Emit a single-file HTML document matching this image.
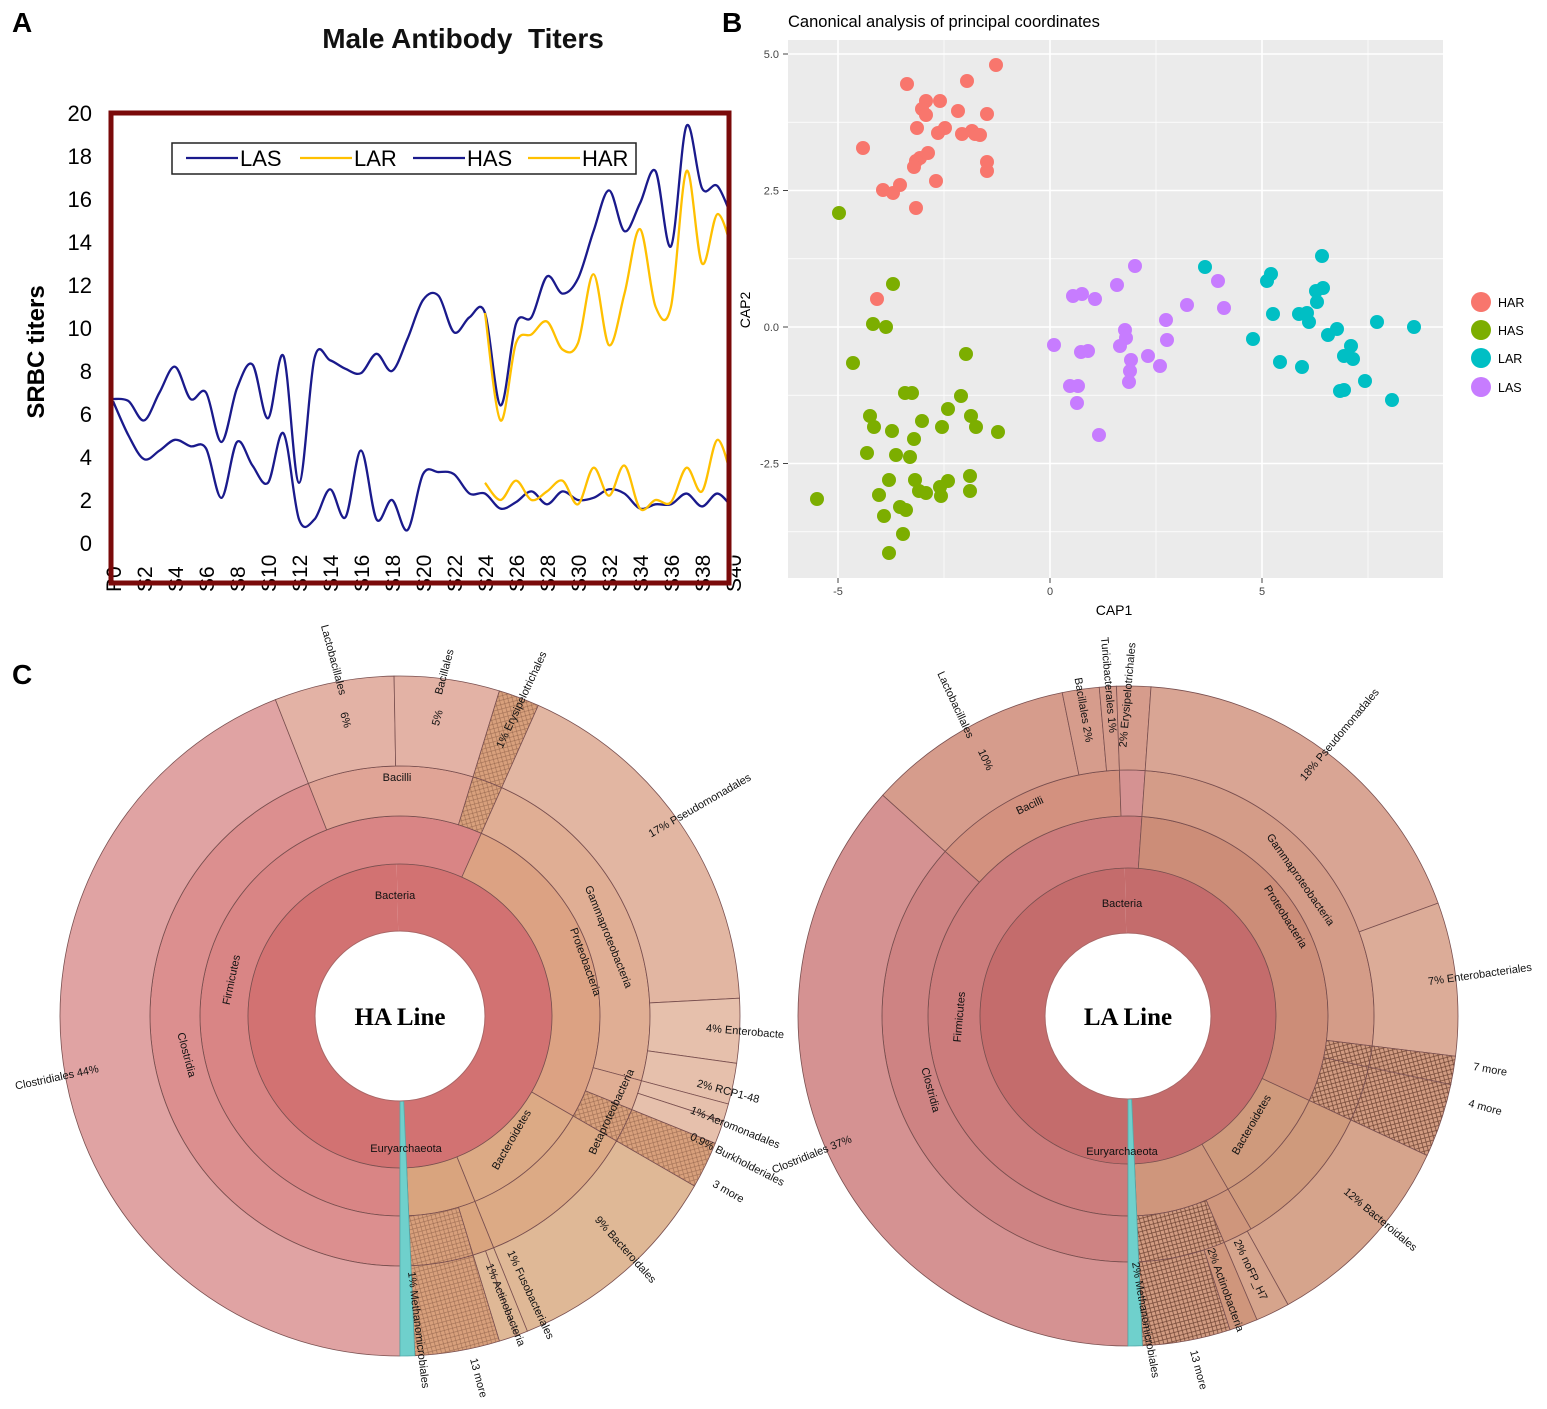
<!DOCTYPE html>
<html><head><meta charset="utf-8"><style>
html,body{margin:0;padding:0;background:#fff;}
svg{display:block;font-family:"Liberation Sans",Arial,sans-serif;}
</style></head><body>
<svg id="s" width="1547" height="1409" viewBox="0 0 1547 1409" xmlns="http://www.w3.org/2000/svg">
<defs>
<pattern id="h1" width="6" height="6" patternUnits="userSpaceOnUse" patternTransform="rotate(30)">
<rect width="6" height="6" fill="#d8a07c"/><path d="M0 0L6 6M6 0L0 6" stroke="#9a6a50" stroke-width="0.6"/></pattern>
<pattern id="h2" width="6" height="6" patternUnits="userSpaceOnUse" patternTransform="rotate(30)">
<rect width="6" height="6" fill="#d29c82"/><path d="M0 0L6 6M6 0L0 6" stroke="#6a4030" stroke-width="0.7"/></pattern>
</defs>
<g id="A"></g><g id="B"></g><g id="C"></g>
<text x="12" y="32" font-size="28" font-weight="bold">A</text>
<text x="722" y="32" font-size="28" font-weight="bold">B</text>
<text x="12" y="684" font-size="28" font-weight="bold">C</text>
</svg>
<script>
const NS="http://www.w3.org/2000/svg";
function el(p,tag,attrs,txt){const e=document.createElementNS(NS,tag);for(const k in attrs)e.setAttribute(k,attrs[k]);if(txt!==undefined)e.textContent=txt;p.appendChild(e);return e;}
// ---------- Panel A ----------
const A=document.getElementById('A');
el(A,'text',{x:463,y:48,'font-size':28,'font-weight':'bold','text-anchor':'middle',fill:'#111'},'Male Antibody\u00a0\u00a0Titers');
el(A,'text',{transform:'translate(44,352) rotate(-90)','font-size':24,'font-weight':'bold','text-anchor':'middle'},'SRBC titers');
const X0=113,DX=15.5,Y0=543,DY=21.5;
const px=i=>X0+i*DX, py=v=>Y0-v*DY;
for(let v=0;v<=20;v+=2)el(A,'text',{x:92,y:py(v)+8,'font-size':22,'text-anchor':'end'},String(v));
for(let i=0;i<=40;i+=2){const lab=i==0?'P0':'S'+i;el(A,'text',{transform:`translate(${px(i)+8},592) rotate(-90)`,'font-size':21,'text-anchor':'start'},lab);}
function smooth(pts){let d=`M${pts[0][0]},${pts[0][1]}`;for(let i=0;i<pts.length-1;i++){const p0=pts[Math.max(0,i-1)],p1=pts[i],p2=pts[i+1],p3=pts[Math.min(pts.length-1,i+2)];const c1=[p1[0]+(p2[0]-p0[0])/6,p1[1]+(p2[1]-p0[1])/6],c2=[p2[0]-(p3[0]-p1[0])/6,p2[1]-(p3[1]-p1[1])/6];d+=`C${c1[0]},${c1[1]} ${c2[0]},${c2[1]} ${p2[0]},${p2[1]}`;}return d;}
const has=[6.7,6.6,5.7,7,8.2,6.7,7,4.7,7.2,8.3,5.8,8.7,2.8,8.6,8.5,8.1,7.9,8.8,8,9.5,11.3,11.5,9.8,10.5,10.7,6.4,10.2,10.5,12.4,11.6,12.3,14.5,16.4,14.5,15.8,17.3,13.8,19.4,16.5,16.6,15];
const har=[10.7,5.7,9.3,9.7,10.3,9.0,9.3,12.5,9.2,11.6,14.6,11.0,11.0,17.3,13.0,15.3,13.5];
const las=[6.6,5,3.9,4.3,4.8,4.5,4.4,2.1,4.7,3.6,2.8,5.1,1.1,1.1,2.5,1.2,4.3,1.1,2.0,0.6,3.2,3.3,3.2,2.3,2.3,1.6,1.9,2.4,1.8,2.4,2.0,2.1,2.5,2.3,1.6,1.8,1.8,2.3,1.7,2.3,1.6];
const lar=[2.8,2.0,2.9,2.0,2.4,2.9,1.8,3.5,2.2,3.6,1.6,2.0,1.9,3.5,2.4,4.8,2.8];
el(A,'clipPath',{id:'pc'});el(document.getElementById('pc'),'rect',{x:110,y:110,width:620,height:475});
const g=el(A,'g',{'clip-path':'url(#pc)'});
el(g,'path',{d:smooth(has.map((v,i)=>[px(i),py(v)])),fill:'none',stroke:'#1a1a8c','stroke-width':2.3});
el(g,'path',{d:smooth(las.map((v,i)=>[px(i),py(v)])),fill:'none',stroke:'#1a1a8c','stroke-width':2.3});
el(g,'path',{d:smooth(har.map((v,i)=>[px(i+24),py(v)])),fill:'none',stroke:'#ffc000','stroke-width':2.3});
el(g,'path',{d:smooth(lar.map((v,i)=>[px(i+24),py(v)])),fill:'none',stroke:'#ffc000','stroke-width':2.3});
el(A,'rect',{x:111,y:113,width:618,height:470,fill:'none',stroke:'#7a0a0a','stroke-width':5});
el(A,'rect',{x:172,y:143,width:464,height:31,fill:'#fff',stroke:'#222','stroke-width':1.5});
[[186,'#1a1a8c','LAS'],[300,'#ffc000','LAR'],[413,'#1a1a8c','HAS'],[528,'#ffc000','HAR']].forEach(([x,c,t])=>{el(A,'line',{x1:x,y1:158,x2:x+52,y2:158,stroke:c,'stroke-width':2.3});el(A,'text',{x:x+54,y:166,'font-size':22},t);});
// ---------- Panel B ----------
const B=document.getElementById('B');
el(B,'text',{x:788,y:27,'font-size':16.5},'Canonical analysis of principal coordinates');
el(B,'rect',{x:788,y:40,width:655,height:538,fill:'#ebebeb'});
const bx=v=>1050+v*42.4, by=v=>327-v*54.6;
for(let v=-3.75;v<=5;v+=1.25)el(B,'line',{x1:788,x2:1443,y1:by(v),y2:by(v),stroke:'#fff','stroke-width':(Math.abs(v/2.5-Math.round(v/2.5))<0.01)?1.6:0.7});
for(let v=-7.5;v<=7.5;v+=2.5)el(B,'line',{y1:40,y2:578,x1:bx(v),x2:bx(v),stroke:'#fff','stroke-width':(Math.abs(v/5-Math.round(v/5))<0.01)?1.6:0.7});
[['5.0',5],['2.5',2.5],['0.0',0],['-2.5',-2.5]].forEach(([t,v])=>{el(B,'text',{x:779,y:by(v)+4,'font-size':11,'text-anchor':'end',fill:'#444'},t);el(B,'line',{x1:783,x2:788,y1:by(v),y2:by(v),stroke:'#444'});});
[['-5',-5],['0',0],['5',5]].forEach(([t,v])=>{el(B,'text',{x:bx(v),y:595,'font-size':11,'text-anchor':'middle',fill:'#444'},t);el(B,'line',{x1:bx(v),x2:bx(v),y1:578,y2:583,stroke:'#444'});});
el(B,'text',{x:1114,y:615,'font-size':14,'text-anchor':'middle'},'CAP1');
el(B,'text',{transform:'translate(750,310) rotate(-90)','font-size':14,'text-anchor':'middle'},'CAP2');
const P={
'#f8766d':[[907,84],[967,81],[996,65],[940,101],[926,101],[922,109],[926,115],[958,111],[987,114],[917,128],[945,128],[938,133],[972,131],[962,134],[975,134],[980,135],[920,158],[928,153],[916,161],[914,167],[987,162],[987,171],[863,148],[936,181],[900,185],[883,190],[893,193],[916,208],[877,299]],
'#7cae00':[[839,213],[893,284],[873,324],[886,327],[966,354],[853,363],[905,393],[912,393],[961,396],[948,409],[870,416],[922,421],[971,416],[874,427],[892,431],[942,427],[976,427],[998,432],[914,439],[867,453],[896,455],[910,457],[970,476],[889,480],[915,480],[948,481],[940,487],[919,491],[926,493],[879,495],[941,496],[970,491],[817,499],[900,507],[906,510],[884,516],[903,534],[889,553]],
'#00bfc4':[[1205,267],[1322,256],[1271,274],[1267,281],[1323,288],[1316,291],[1273,314],[1299,314],[1307,313],[1309,322],[1377,322],[1414,327],[1337,329],[1328,335],[1253,339],[1351,346],[1344,356],[1280,362],[1302,367],[1353,359],[1365,381],[1344,390],[1340,391],[1392,400],[1317,302]],
'#c77cff':[[1135,266],[1117,285],[1218,281],[1082,294],[1073,296],[1095,299],[1187,305],[1224,308],[1166,320],[1125,330],[1126,338],[1054,345],[1167,340],[1120,346],[1088,351],[1081,352],[1148,356],[1131,360],[1160,366],[1130,371],[1070,386],[1078,386],[1129,382],[1077,403],[1099,435]]};
for(const c in P)P[c].forEach(([x,y])=>el(B,'circle',{cx:x,cy:y,r:7,fill:c}));
[['#f8766d','HAR',302],['#7cae00','HAS',330],['#00bfc4','LAR',358],['#c77cff','LAS',387]].forEach(([c,t,y])=>{el(B,'circle',{cx:1481,cy:y,r:10,fill:c});el(B,'text',{x:1498,y:y+5,'font-size':12.5},t);});
// ---------- Panel C ----------
const C=document.getElementById('C');
const rad=a=>a*Math.PI/180;
function pt(cx,cy,r,a){return[cx+r*Math.sin(rad(a)),cy-r*Math.cos(rad(a))];}
function wedge(cx,cy,r0,r1,a0,a1,fill,stroke){
 const large=(a1-a0)>180?1:0;const p1=pt(cx,cy,r1,a0),p2=pt(cx,cy,r1,a1),p3=pt(cx,cy,r0,a1),p4=pt(cx,cy,r0,a0);
 el(C,'path',{d:`M${p1}A${r1},${r1} 0 ${large} 1 ${p2}L${p3}A${r0},${r0} 0 ${large} 0 ${p4}Z`,fill,stroke:stroke||'#7a5050','stroke-width':0.8});}
function lab(x,y,rot,t,size){el(C,'text',{transform:`translate(${x},${y}) rotate(${rot})`,'font-size':size||11,'text-anchor':'middle','dominant-baseline':'middle',fill:'#111'},t);}
function sunburst(cx,cy,R,col,segs,hatch,label,labels){
 const [r0,r1,r2,r3,r4]=R;
 segs.forEach(([ring,a0,a1,c])=>{const rr=[[r0,r1],[r1,r2],[r2,r3],[r3,r4]][ring];const f=c==='H'?`url(#${hatch})`:col[c]||c;
  if(a1-a0>300){const m=(a0+a1)/2;wedge(cx,cy,rr[0],rr[1],a0,m,f,'none');wedge(cx,cy,rr[0],rr[1],m,a1,f,'none');}
  else wedge(cx,cy,rr[0],rr[1],a0,a1,f);});
 [r1,r2,r3].forEach(r=>el(C,'circle',{cx,cy,r,fill:'none',stroke:'#7a5050','stroke-width':0.6,'stroke-opacity':0.5}));
 wedge(cx,cy,r0,r4,177.5,180,'#6fd0cc','#5aa');
 el(C,'circle',{cx,cy,r:r0,fill:'#fff',stroke:'#a66','stroke-width':1});
 el(C,'text',{x:cx,y:cy+9,'font-size':25,'font-weight':'bold','font-family':'"Liberation Serif",serif','text-anchor':'middle'},label);
 labels.forEach(l=>lab(...l));
}
// left
sunburst(400,1016,[85,152,200,250,340],{b:'#d27272',f:'#d98585',cl:'#dc8f8f',co:'#e0a3a3',ba:'#e0a496',bo:'#e3b2a5',p:'#dca283',g:'#e0ae94',po:'#e2b6a2',o2:'#e6c0ac',bt:'#dcaa85',bd:'#dfb896',x:'#d9a47e'},
[[0,180,537.5,'b'],
 [1,180,384,'f'],[1,24,120,'p'],[1,120,158,'bt'],[1,158,177.5,'x'],
 [2,180,338.5,'cl'],[2,338.5,377,'ba'],[2,377,384,'H'],[2,24,105,'g'],[2,105,112,'g'],[2,112,120,'H'],[2,120,158,'bt'],[2,158,163,'x'],[2,163,177.5,'H'],
 [3,180,338.5,'co'],[3,338.5,359,'bo'],[3,359,377,'bo'],[3,377,384,'H'],[3,24,87,'po'],[3,87,98,'o2'],[3,98,105,'o2'],[3,105,108,'o2'],[3,108,112,'o2'],[3,112,120,'H'],[3,120,158,'bd'],[3,158,160,'bd'],[3,160,163,'bd'],[3,163,177.5,'H']],'h1','HA Line',
[[395,896,0,'Bacteria'],[406,1149,0,'Euryarchaeota'],[232,980,-78,'Firmicutes'],[186,1055,75,'Clostridia'],[397,778,0,'Bacilli'],
 [585,962,70,'Proteobacteria'],[608,937,68,'Gammaproteobacteria'],[612,1112,-65,'Betaproteobacteria'],[512,1140,-60,'Bacteroidetes'],
 [57,1078,-12,'Clostridiales  44%'],[333,660,75,'Lactobacillales'],[345,720,75,'6%'],[445,672,-75,'Bacillales'],[438,718,-75,'5%'],[522,700,-65,'1%  Erysipelotrichales'],
 [700,806,-30,'17%  Pseudomonadales'],[745,1032,5,'4%  Enterobacte'],[728,1092,15,'2%  RCP1-48'],[735,1128,22,'1%  Aeromonadales'],[737,1160,27,'0.9%  Burkholderiales'],[728,1192,30,'3 more'],
 [625,1250,48,'9%  Bacteroidales'],[530,1295,65,'1%  Fusobacteriales'],[505,1305,68,'1%  Actinobacteria'],[418,1330,83,'1%  Methanomicrobiales'],[478,1378,75,'13 more']]);
// right
sunburst(1128,1016,[83,148,200,246,330],{b:'#c46c6c',f:'#cc7c7c',cl:'#ce8383',co:'#d59292',ba:'#d3917f',bo:'#d69c8c',p:'#cc8d78',g:'#d49c88',po:'#d9a594',o2:'#dcac98',bt:'#cf9a7c',bd:'#d6a48c',x:'#cf967c'},
[[0,180,537.5,'b'],
 [1,180,364,'f'],[1,4,115,'p'],[1,115,150,'bt'],[1,150,177.5,'x'],
 [2,180,312,'cl'],[2,312,358,'ba'],[2,358,364,'co'],[2,4,97,'g'],[2,97,102,'H'],[2,102,115,'H'],[2,115,150,'bt'],[2,150,157,'x'],[2,157,177.5,'H'],
 [3,180,312,'co'],[3,312,348.5,'bo'],[3,348.5,355,'bo'],[3,355,358,'bo'],[3,358,364,'bo'],[3,4,70,'po'],[3,70,97,'o2'],[3,97,102,'H'],[3,102,115,'H'],[3,115,151,'bd'],[3,151,157,'bd'],[3,157,162,'x'],[3,162,177.5,'H']],'h2','LA Line',
[[1122,904,0,'Bacteria'],[1122,1152,0,'Euryarchaeota'],[960,1017,-85,'Firmicutes'],[930,1090,75,'Clostridia'],[1030,806,-25,'Bacilli'],
 [1300,880,55,'Gammaproteobacteria'],[1285,917,58,'Proteobacteria'],[1252,1125,-60,'Bacteroidetes'],
 [812,1155,-22,'Clostridiales  37%'],[955,705,65,'Lactobacillales'],[985,760,65,'10%'],[1083,710,80,'Bacillales  2%'],[1108,685,85,'Turicibacterales  1%'],[1128,695,-85,'2%  Erysipelotrichales'],
 [1340,735,-50,'18%  Pseudomonadales'],[1480,975,-8,'7%  Enterobacteriales'],[1490,1070,10,'7 more'],[1485,1108,15,'4 more'],
 [1380,1220,40,'12%  Bacteroidales'],[1250,1270,65,'2%  noFP_H7'],[1225,1290,70,'2%  Actinobacteria'],[1145,1320,80,'2%  Methanomicrobiales'],[1198,1370,75,'13 more']]);
</script>
</body></html>
